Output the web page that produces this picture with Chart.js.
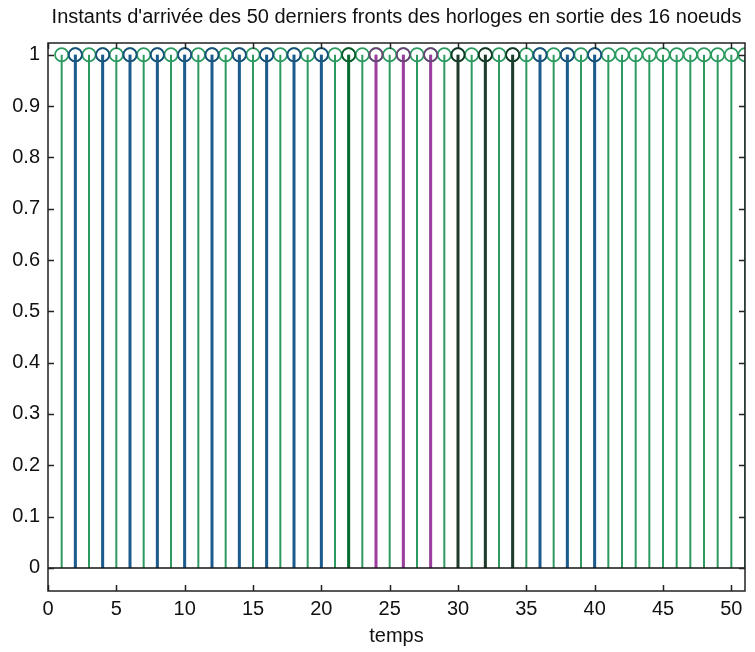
<!DOCTYPE html>
<html>
<head>
<meta charset="utf-8">
<script src="https://cdn.jsdelivr.net/npm/chart.js@4/dist/chart.umd.min.js"></script>
<style>
  html, body { margin: 0; padding: 0; background: #fff; }
  #wrap { width: 755px; height: 652px; }
</style>
</head>
<body>
<div id="wrap"><canvas id="stems"></canvas></div>
<script>
// instants (temps) of the 50 last clock edges, all nodes
const allTimes = [1, 2, 3, 4, 5, 6, 7, 8, 9, 10, 11, 12, 13, 14, 15, 16, 17, 18, 19, 20,
  21, 22, 23, 24, 25, 26, 27, 28, 29, 30, 31, 32, 33, 34, 35, 36, 37, 38, 39, 40,
  41, 42, 43, 44, 45, 46, 47, 48, 49, 50, 51];
const blueTimes = [2, 4, 6, 8, 10, 12, 14, 16, 18, 20, 36, 38, 40];
const darkGreenTimes = [22];
const magentaTimes = [24, 26, 28];
const blackTimes = [30, 32, 34];
const edgeValue = 1;

const xTicks = [0, 5, 10, 15, 20, 25, 30, 35, 40, 45, 50];
const yTicks = [0, 0.1, 0.2, 0.3, 0.4, 0.5, 0.6, 0.7, 0.8, 0.9, 1];

const FONT = "'Liberation Sans', Arial, sans-serif";

function stemLine(xs) {
  const pts = [];
  xs.forEach(x => {
    pts.push({ x: x, y: 0 });
    pts.push({ x: x, y: edgeValue });
    pts.push({ x: x, y: null });
  });
  return pts;
}

function heads(xs) {
  return xs.map(x => ({ x: x, y: edgeValue }));
}

function stemSet(xs, color, width, order) {
  return {
    data: stemLine(xs),
    borderColor: color,
    borderWidth: width,
    pointRadius: 0,
    spanGaps: false,
    showLine: true,
    order: order
  };
}

function headSet(xs, color, order) {
  return {
    data: heads(xs),
    borderColor: color,
    backgroundColor: 'rgba(0,0,0,0)',
    showLine: false,
    pointRadius: 6.6,
    pointBorderWidth: 1.7,
    pointStyle: 'circle',
    order: order
  };
}

// box and inward ticks like matlab
const boxPlugin = {
  id: 'box',
  afterDraw(chart) {
    const { ctx, chartArea: a, scales } = chart;
    ctx.save();
    ctx.strokeStyle = '#222';
    ctx.lineWidth = 1.5;
    ctx.strokeRect(a.left, a.top, a.right - a.left, a.bottom - a.top);
    ctx.beginPath();
    xTicks.forEach(v => {
      const px = Math.round(scales.x.getPixelForValue(v)) + 0.5;
      ctx.moveTo(px, a.bottom); ctx.lineTo(px, a.bottom - 6);
      ctx.moveTo(px, a.top); ctx.lineTo(px, a.top + 6);
    });
    yTicks.forEach(v => {
      const py = Math.round(scales.y.getPixelForValue(v)) + 0.5;
      ctx.moveTo(a.left, py); ctx.lineTo(a.left + 6, py);
      ctx.moveTo(a.right, py); ctx.lineTo(a.right - 6, py);
    });
    ctx.stroke();
    ctx.restore();
  }
};

new Chart(document.getElementById('stems'), {
  type: 'line',
  data: {
    datasets: [
      {
        data: [{ x: 0, y: 0 }, { x: 51, y: 0 }],
        borderColor: '#111',
        borderWidth: 1.5,
        pointRadius: 0,
        order: 0
      },
      headSet(blueTimes, '#1a4f80', 1),
      headSet(darkGreenTimes, '#0b5a2c', 1),
      headSet(magentaTimes, '#6e3f78', 1),
      headSet(blackTimes, '#173526', 1),
      headSet(allTimes, '#2a9a5e', 2),
      stemSet(blueTimes, '#1d5a8e', 3, 3),
      stemSet(darkGreenTimes, '#0a6a32', 3, 3),
      stemSet(magentaTimes, '#9a3d9e', 3, 3),
      stemSet(blackTimes, '#1e3b2c', 3, 3),
      stemSet(allTimes, '#2e9a60', 2, 4)
    ]
  },
  options: {
    responsive: true,
    maintainAspectRatio: false,
    animation: false,
    layout: { padding: { left: 0, right: 10, top: 0, bottom: 0 } },
    plugins: {
      legend: { display: false },
      tooltip: { enabled: false },
      title: {
        display: true,
        fullSize: false,
        text: "Instants d'arrivée des 50 derniers fronts des horloges en sortie des 16 noeuds",
        color: '#111',
        font: { family: FONT, size: 20, weight: 'normal' },
        padding: { top: 5, bottom: 14 }
      }
    },
    scales: {
      x: {
        type: 'linear',
        min: 0,
        max: 51,
        grid: { display: false, drawTicks: false },
        border: { display: false },
        afterBuildTicks: s => { s.ticks = xTicks.map(v => ({ value: v })); },
        afterFit: s => { s.height = 61; },
        ticks: {
          color: '#111',
          font: { family: FONT, size: 20 },
          padding: 6,
          maxRotation: 0,
          callback: v => String(v)
        },
        title: {
          display: true,
          text: 'temps',
          color: '#111',
          font: { family: FONT, size: 20 },
          padding: { top: 0, bottom: 4 }
        }
      },
      y: {
        type: 'linear',
        min: -0.045,
        max: 1.023,
        grid: { display: false, drawTicks: false },
        border: { display: false },
        afterBuildTicks: s => { s.ticks = yTicks.map(v => ({ value: v })); },
        afterFit: s => { s.width = 48; },
        ticks: {
          color: '#111',
          font: { family: FONT, size: 20 },
          padding: 8,
          callback: v => String(v)
        }
      }
    }
  },
  plugins: [boxPlugin]
});
</script>
</body>
</html>
